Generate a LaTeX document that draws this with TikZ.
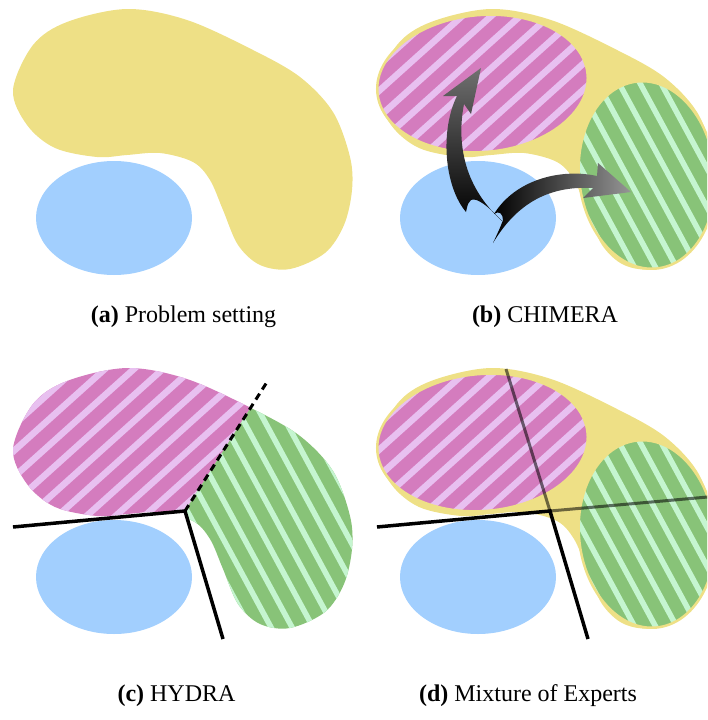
\documentclass[tikz,border=0pt]{standalone}
\usepackage{fontspec}
\setmainfont{Liberation Serif}

\definecolor{blobyellow}{RGB}{238,224,134}
\definecolor{skyblue}{RGB}{162,207,254}
\definecolor{pinkdark}{RGB}{212,124,190}
\definecolor{pinklight}{RGB}{232,192,240}
\definecolor{greendark}{RGB}{136,195,120}
\definecolor{greenlight}{RGB}{197,245,208}
\definecolor{arrowgrayA}{RGB}{112,112,112}
\definecolor{arrowgrayB}{RGB}{150,150,150}

\tikzset{
  captext/.style={anchor=base, inner sep=0pt, font=\fontsize{24}{28}\selectfont},
  splitline/.style={line width=3.5pt, black, line join=miter},
  dashsplit/.style={line width=3pt, black, dash pattern=on 7pt off 5pt},
  softsplit/.style={line width=3pt, black, opacity=0.55},
  rim/.style={blobyellow, line width=2.5pt},
}

% outline of the yellow region, in panel coordinates (y grows downwards)
\def\blobpts{(13,90) (33,45) (67,22) (127,9) (187,20) (253,50) (300,77) (333,112) (350,157) (352,190) (344,225) (325,253) (290,269) (260,265) (238,245) (223,210) (210,180) (193,162) (160,153) (127,155) (97,157) (55,148) (27,125)}

% hatching used inside clipped regions
\newcommand\pinkhatch{%
  \foreach \k in {-29,0,...,720} {\draw[pinklight, line width=6.5pt] (\k+330,-297) -- (\k-330,297);}}
\newcommand\greenhatch{%
  \foreach \k in {-189,-168,...,400} {\draw[greenlight, line width=5.5pt] (\k-20,-37) -- (\k+300,555);}}

% the two expert regions
\newcommand\pinkexpert{%
  \begin{scope}
    \clip[rotate around={5:(118.5,83.5)}] (118.5,83.5) ellipse [x radius=105.5, y radius=68.5];
    \fill[pinkdark] (-10,-10) rectangle (400,300);
    \pinkhatch
  \end{scope}
  \draw[rim, rotate around={5:(118.5,83.5)}] (118.5,83.5) ellipse [x radius=105.5, y radius=68.5];}
\newcommand\greenexpert{%
  \begin{scope}
    \clip[rotate around={6:(283,175)}] (283,175) ellipse [x radius=68, y radius=94];
    \fill[greendark] (-10,-10) rectangle (400,300);
    \greenhatch
  \end{scope}
  \draw[rim, rotate around={6:(283,175)}] (283,175) ellipse [x radius=68, y radius=94];}

\begin{document}
\begin{tikzpicture}[x=1pt, y=-1pt]
\useasboundingbox (0,0) rectangle (707,720);
\clip (0,0) rectangle (707,720);

%---------------- (a) ----------------
\begin{scope}
  \fill[blobyellow] plot[smooth cycle, tension=0.55] coordinates {\blobpts};
  \fill[skyblue] (114,218) ellipse [x radius=78, y radius=57];
\end{scope}

%---------------- (b) ----------------
\begin{scope}[shift={(364,0)}]
  \fill[blobyellow] plot[smooth cycle, tension=0.55] coordinates {\blobpts};
  \pinkexpert
  \greenexpert
  \fill[skyblue] (114,218) ellipse [x radius=78, y radius=57];
\end{scope}

% curved arrows from the blue set to the two experts
\shade[top color=arrowgrayA, bottom color=black]
  (481,68) -- (471,114) .. controls (468,109) .. (464,104)
  .. controls (457,140) and (462,185) .. (502,221)
  .. controls (489,207) and (477,197) .. (471,200)
  .. controls (468,203) .. (466,212)
  .. controls (444,186) and (440,130) .. (457,96)
  -- (443,96) -- cycle;
\shade[left color=black, right color=arrowgrayB]
  (631,192) -- (598,163) .. controls (597,169) .. (597,176)
  .. controls (560,168) and (515,180) .. (494,214)
  .. controls (499,210) and (503,214) .. (503,220)
  .. controls (500,228) .. (493,243)
  .. controls (520,198) and (555,186) .. (593,188)
  -- (583,198) -- cycle;

%---------------- (c) ----------------
\begin{scope}[shift={(0,359)}]
  \coordinate (cC) at (185,152);
  \coordinate (cL) at (13,168);
  \coordinate (cD) at (223,280);
  \coordinate (cU) at (267,23);
  \fill[skyblue] (114,218) ellipse [x radius=78, y radius=57];
  \begin{scope}
    \clip plot[smooth cycle, tension=0.55] coordinates {\blobpts};
    \clip (cC) -- (-200,188) -- (-200,-300) -- (472,-300) -- cycle;
    \fill[pinkdark] (-10,-10) rectangle (400,300);
    \pinkhatch
  \end{scope}
  \begin{scope}
    \clip plot[smooth cycle, tension=0.55] coordinates {\blobpts};
    \clip (cC) -- (472,-300) -- (600,-300) -- (600,600) -- (318,600) -- cycle;
    \fill[greendark] (-10,-10) rectangle (400,300);
    \greenhatch
  \end{scope}
  \draw[splitline] (cL) -- (cC) -- (cD);
  \draw[dashsplit] (cC) -- (cU);
\end{scope}

%---------------- (d) ----------------
\begin{scope}[shift={(364,359)}]
  \coordinate (dC) at (186,152);
  \coordinate (dL) at (13,168);
  \coordinate (dD) at (224,280);
  \coordinate (dU) at (142,10);
  \coordinate (dR) at (400,133);
  \fill[blobyellow] plot[smooth cycle, tension=0.55] coordinates {\blobpts};
  \pinkexpert
  \greenexpert
  \fill[skyblue] (114,218) ellipse [x radius=78, y radius=57];
  \draw[softsplit] (dU) -- (dC);
  \draw[softsplit] (dC) -- (dR);
  \draw[splitline] (dL) -- (dC) -- (dD);
\end{scope}

%---------------- captions ----------------
\node[captext] (capa) at (183.5,322) {\textbf{(a)} Problem setting};
\node[captext] (capb) at (545,322) {\textbf{(b)} CHIMERA};
\node[captext] (capc) at (176.5,701) {\textbf{(c)} HYDRA};
\node[captext] (capd) at (528,701) {\textbf{(d)} Mixture of Experts};
\end{tikzpicture}
\end{document}
